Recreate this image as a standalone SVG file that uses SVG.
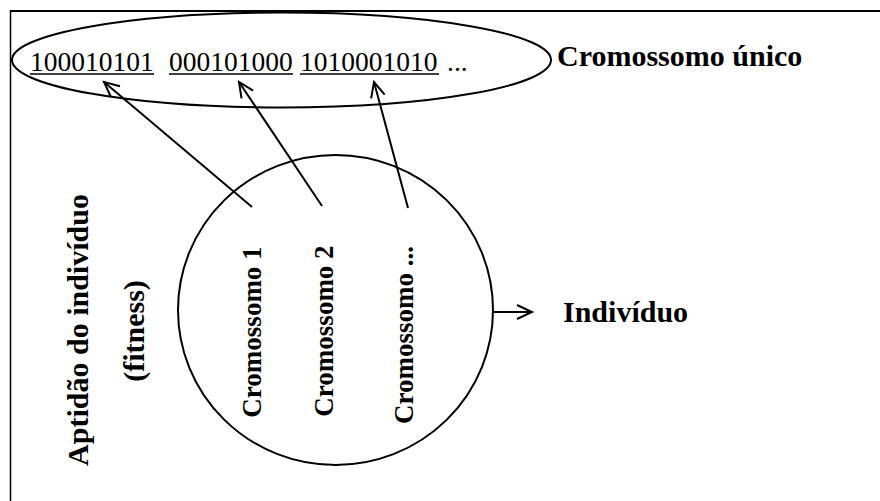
<svg xmlns="http://www.w3.org/2000/svg" width="880" height="501" viewBox="0 0 880 501">
  <style>
    .t { font-family: "Liberation Serif", "Times New Roman", serif; fill: #000; }
    .b { font-weight: bold; }
    .ln { stroke: #000; fill: none; }
  </style>
  <defs>
    <marker id="ah" markerUnits="userSpaceOnUse" markerWidth="20" markerHeight="20" refX="0" refY="0" orient="auto" overflow="visible">
      <path d="M-15,-7 L0,0 L-15,7" fill="none" stroke="#000" stroke-width="2"/>
    </marker>
  </defs>
  <rect width="880" height="501" fill="#fff"/>
  <g id="frame">
    <line class="ln" x1="10" y1="11" x2="880" y2="11" stroke-width="2"/>
    <line class="ln" x1="10.5" y1="10" x2="10.5" y2="501" stroke-width="1.5"/>
  </g>
  <g id="cromossomo-unico">
    <ellipse class="ln" cx="281.5" cy="60" rx="269.5" ry="47.5" stroke-width="2"/>
    <text class="t" x="30" y="71" font-size="27.5">100010101</text>
    <text class="t" x="169" y="71" font-size="27.5">000101000</text>
    <text class="t" x="300" y="71" font-size="27.5">1010001010</text>
    <text class="t" x="447" y="71" font-size="27.5">...</text>
    <line class="ln" x1="30" y1="74" x2="154" y2="74" stroke-width="1.5"/>
    <line class="ln" x1="169" y1="74" x2="293" y2="74" stroke-width="1.5"/>
    <line class="ln" x1="300" y1="74" x2="439" y2="74" stroke-width="1.5"/>
    <text class="t b" x="557" y="66" font-size="30">Cromossomo único</text>
  </g>
  <g id="individuo">
    <ellipse class="ln" cx="335.5" cy="310" rx="157.5" ry="155" stroke-width="2"/>
    <text class="t b" font-size="27" text-anchor="middle" transform="translate(261,332) rotate(-90)">Cromossomo 1</text>
    <text class="t b" font-size="27" text-anchor="middle" transform="translate(333,331) rotate(-90)">Cromossomo 2</text>
    <text class="t b" font-size="27" text-anchor="middle" transform="translate(413,335) rotate(-90)">Cromossomo ...</text>
  </g>
  <g id="aptidao">
    <text class="t b" font-size="30" text-anchor="middle" transform="translate(88,330) rotate(-90)">Aptidão do indivíduo</text>
    <text class="t b" font-size="30" text-anchor="middle" transform="translate(144,331) rotate(-90)">(fitness)</text>
  </g>
  <g id="label-individuo">
    <text class="t b" x="563" y="322" font-size="30">Indivíduo</text>
  </g>
  <g id="connectors" stroke="#000" stroke-width="2" fill="none">
    <line x1="252" y1="207" x2="104" y2="82" marker-end="url(#ah)"/>
    <line x1="322" y1="206" x2="239" y2="82" marker-end="url(#ah)"/>
    <line x1="408" y1="208" x2="374" y2="82" marker-end="url(#ah)"/>
    <line x1="492" y1="312" x2="532" y2="312" marker-end="url(#ah)"/>
  </g>
</svg>
